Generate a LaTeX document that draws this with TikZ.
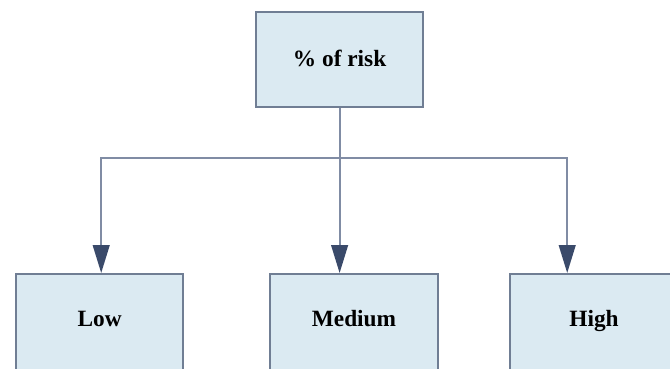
\documentclass[tikz,border=0pt]{standalone}
\usepackage{fontspec}
\setmainfont{Liberation Serif}
\usepackage{tikz}
\usetikzlibrary{arrows.meta, positioning, calc}
\definecolor{boxfill}{RGB}{219,234,242}
\definecolor{boxline}{RGB}{112,126,148}
\definecolor{linkline}{RGB}{128,140,164}
\definecolor{tipdark}{RGB}{58,74,106}
\tikzset{
  riskbox/.style={rectangle, draw=boxline, fill=boxfill, line width=1.3pt,
    minimum width=4.18cm, minimum height=2.38cm, align=center,
    text height=1.6ex, text depth=0.4ex,
    font=\fontsize{16.6}{19}\selectfont\bfseries},
  levelbox/.style={riskbox, minimum height=2.45cm, anchor=north},
  arrow/.style={-{Triangle[length=0.7cm, width=0.42cm, color=tipdark, fill=tipdark]},
    line width=1.3pt, color=linkline},
  line/.style={line width=1.3pt, color=linkline}
}
\begin{document}
\begin{tikzpicture}
\useasboundingbox (0,0) rectangle (16.75,9.2);
\clip (0,0) rectangle (16.75,9.2);
% parent
\node[riskbox, text height=2.2ex, text depth=0.2ex] (risk) at (8.49, 7.71) {\% of risk};

% levels
\node[levelbox] (low) at (2.49, 2.375) {Low};
\node[levelbox] (med) at (8.85, 2.375) {Medium};
\node[levelbox] (high) at (14.85, 2.375) {High};

% links
\coordinate (fork) at (8.49, 5.25);
\draw[arrow] (risk) -- (risk |- med.north);
\draw[arrow] (fork) -| ([xshift=0.04cm]low.north);
\draw[arrow] (fork) -| ([xshift=-0.67cm]high.north);
\end{tikzpicture}
\end{document}
